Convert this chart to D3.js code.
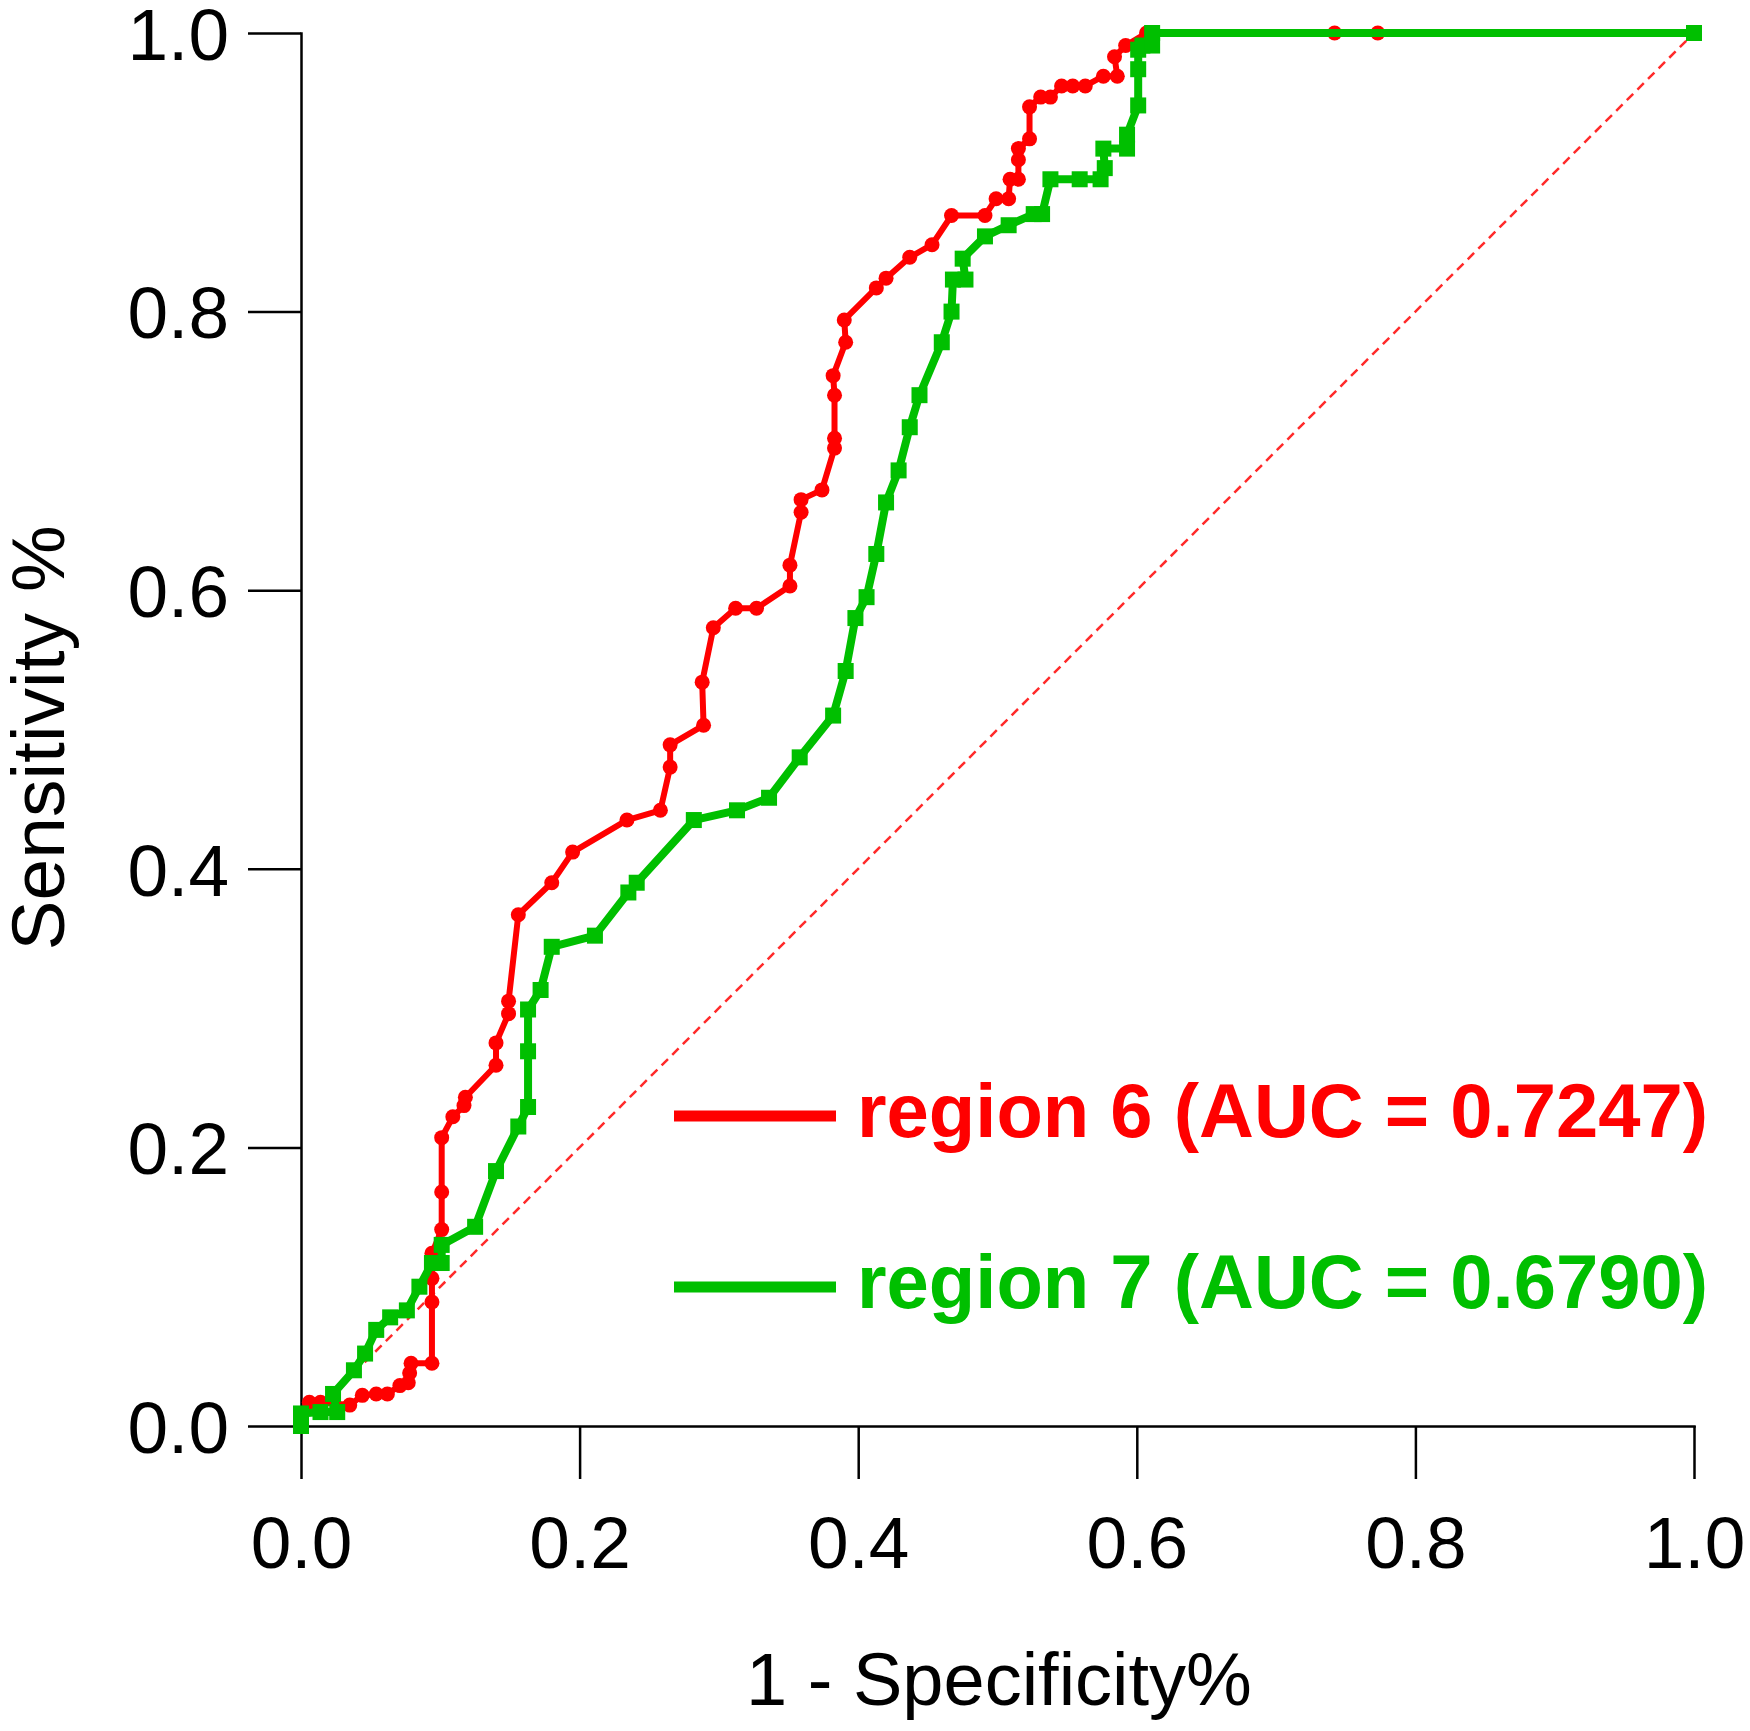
<!DOCTYPE html>
<html lang="en">
<head>
    <meta charset="UTF-8">
    <title>ROC curves</title>
    <script src="https://cdn.jsdelivr.net/npm/d3@7/dist/d3.min.js"></script>
    <style>
        body {
            margin: 0;
            background-color: white;
        }
        text {
            font-family: "Liberation Sans", Arial, sans-serif;
        }
        .axis path, .axis line {
            stroke: black;
            stroke-width: 2.5;
        }
        .axis text {
            font-size: 73px;
            fill: black;
        }
    </style>
</head>
<body>

<svg id="svg" width="1750" height="1731"></svg>

<script>
    // 1 - specificity / sensitivity
    var region6X = [0.000, 0.000, 0.006, 0.014, 0.035, 0.044, 0.054, 0.062, 0.071, 0.077,
        0.078, 0.079, 0.094, 0.094, 0.094, 0.094, 0.101, 0.101, 0.101, 0.109,
        0.117, 0.118, 0.140, 0.140, 0.149, 0.149, 0.156, 0.180, 0.195, 0.234,
        0.258, 0.265, 0.265, 0.289, 0.288, 0.296, 0.312, 0.327, 0.351, 0.351,
        0.359, 0.359, 0.374, 0.383, 0.383, 0.383, 0.382, 0.391, 0.390, 0.413,
        0.420, 0.437, 0.453, 0.467, 0.491, 0.499, 0.508, 0.509, 0.515, 0.515,
        0.515, 0.523, 0.523, 0.531, 0.538, 0.546, 0.554, 0.563, 0.576, 0.586,
        0.584, 0.592, 0.607, 0.742, 0.773, 1.000];
    var region6Y = [0.000, 0.008, 0.017, 0.017, 0.015, 0.022, 0.023, 0.023, 0.029, 0.031,
        0.038, 0.045, 0.045, 0.089, 0.106, 0.124, 0.141, 0.168, 0.207, 0.222,
        0.230, 0.236, 0.259, 0.275, 0.296, 0.305, 0.367, 0.390, 0.412, 0.435,
        0.442, 0.473, 0.489, 0.503, 0.534, 0.573, 0.587, 0.587, 0.603, 0.618,
        0.656, 0.665, 0.672, 0.702, 0.709, 0.740, 0.754, 0.778, 0.794, 0.817,
        0.824, 0.839, 0.848, 0.869, 0.869, 0.881, 0.881, 0.895, 0.895, 0.909,
        0.917, 0.924, 0.947, 0.954, 0.954, 0.962, 0.962, 0.962, 0.969, 0.969,
        0.983, 0.991, 1.000, 1.000, 1.000, 1.000];

    var region7X = [0.000, 0.000, 0.014, 0.026, 0.023, 0.038, 0.046, 0.054, 0.064, 0.076,
        0.085, 0.094, 0.101, 0.101, 0.125, 0.140, 0.156, 0.163, 0.163, 0.163,
        0.172, 0.180, 0.211, 0.235, 0.241, 0.282, 0.313, 0.336, 0.358, 0.382,
        0.391, 0.398, 0.406, 0.413, 0.420, 0.429, 0.437, 0.444, 0.460, 0.467,
        0.468, 0.477, 0.475, 0.491, 0.508, 0.526, 0.532, 0.538, 0.559, 0.574,
        0.577, 0.576, 0.593, 0.593, 0.601, 0.601, 0.601, 0.604, 0.611, 0.611,
        1.000];
    var region7Y = [0.000, 0.009, 0.010, 0.010, 0.023, 0.040, 0.052, 0.069, 0.078, 0.083,
        0.100, 0.117, 0.117, 0.130, 0.143, 0.183, 0.215, 0.229, 0.269, 0.299,
        0.313, 0.344, 0.352, 0.383, 0.390, 0.435, 0.442, 0.451, 0.480, 0.510,
        0.542, 0.580, 0.595, 0.626, 0.663, 0.686, 0.717, 0.740, 0.778, 0.800,
        0.823, 0.823, 0.838, 0.854, 0.862, 0.870, 0.870, 0.895, 0.895, 0.895,
        0.903, 0.917, 0.917, 0.927, 0.948, 0.974, 0.988, 0.991, 0.991, 1.000,
        1.000];

    var tickValues = [0.0, 0.2, 0.4, 0.6, 0.8, 1.0];
    var legendLabels = ["region 6 (AUC = 0.7247)", "region 7 (AUC = 0.6790)"];
    var seriesColors = ["#ff0000", "#00bf00"];

    var svg = d3.select("#svg");

    var x = d3.scaleLinear().domain([0, 1]).range([301, 1694]);
    var y = d3.scaleLinear().domain([0, 1]).range([1426, 33]);

    function zipPoints(xs, ys) {
        return xs.map(function(v, i) {
            return [v, ys[i]];
        });
    }

    var line = d3.line()
        .x(function(d) { return x(d[0]); })
        .y(function(d) { return y(d[1]); });

    // reference diagonal
    svg.append("path")
        .datum([[0, 0], [1, 1]])
        .attr("d", line)
        .attr("fill", "none")
        .attr("stroke", "#ff2a2a")
        .attr("stroke-width", 2.5)
        .attr("stroke-dasharray", "9,6");

    // axes
    var yAxis = d3.axisLeft(y)
        .tickValues(tickValues)
        .tickFormat(d3.format(".1f"))
        .tickSize(53)
        .tickSizeOuter(0)
        .tickPadding(19);

    var xAxis = d3.axisBottom(x)
        .tickValues(tickValues)
        .tickFormat(d3.format(".1f"))
        .tickSize(53)
        .tickSizeOuter(0)
        .tickPadding(37);

    svg.append("g")
        .attr("class", "axis")
        .attr("transform", "translate(" + x(0) + ",0)")
        .call(yAxis)
        .selectAll("text")
        .attr("dy", "0.36em");

    svg.append("g")
        .attr("class", "axis")
        .attr("transform", "translate(0," + y(0) + ")")
        .call(xAxis);

    svg.selectAll(".axis .domain").attr("stroke-linecap", "square");

    // curves
    var region6 = zipPoints(region6X, region6Y);
    var region7 = zipPoints(region7X, region7Y);

    svg.append("path")
        .datum(region6)
        .attr("d", line)
        .attr("fill", "none")
        .attr("stroke", seriesColors[0])
        .attr("stroke-width", 6)
        .attr("stroke-linejoin", "round");

    svg.append("g").selectAll("circle")
        .data(region6)
        .enter()
        .append("circle")
        .attr("cx", function(d) { return x(d[0]); })
        .attr("cy", function(d) { return y(d[1]); })
        .attr("r", 7.5)
        .attr("fill", seriesColors[0]);

    svg.append("path")
        .datum(region7)
        .attr("d", line)
        .attr("fill", "none")
        .attr("stroke", seriesColors[1])
        .attr("stroke-width", 8)
        .attr("stroke-linejoin", "round");

    var sq = 16;
    svg.append("g").selectAll("rect")
        .data(region7)
        .enter()
        .append("rect")
        .attr("x", function(d) { return x(d[0]) - sq / 2; })
        .attr("y", function(d) { return y(d[1]) - sq / 2; })
        .attr("width", sq)
        .attr("height", sq)
        .attr("fill", seriesColors[1]);

    // axis titles
    svg.append("text")
        .attr("x", 999)
        .attr("y", 1705)
        .attr("text-anchor", "middle")
        .attr("font-size", 74)
        .text("1 - Specificity%");

    svg.append("text")
        .attr("transform", "translate(64,738) rotate(-90)")
        .attr("text-anchor", "middle")
        .attr("font-size", 75)
        .text("Sensitivity %");

    // legend
    var legend = svg.append("g")
        .selectAll("g")
        .data(legendLabels)
        .enter()
        .append("g")
        .attr("transform", function(d, i) {
            return "translate(674," + (1116 + i * 171) + ")";
        });

    legend.append("line")
        .attr("x1", 0)
        .attr("x2", 162)
        .attr("stroke", function(d, i) { return seriesColors[i]; })
        .attr("stroke-width", 11);

    legend.append("text")
        .attr("x", 183)
        .attr("y", 21)
        .attr("font-size", 76)
        .attr("font-weight", "bold")
        .attr("fill", function(d, i) { return seriesColors[i]; })
        .text(function(d) { return d; });
</script>
</body>
</html>
